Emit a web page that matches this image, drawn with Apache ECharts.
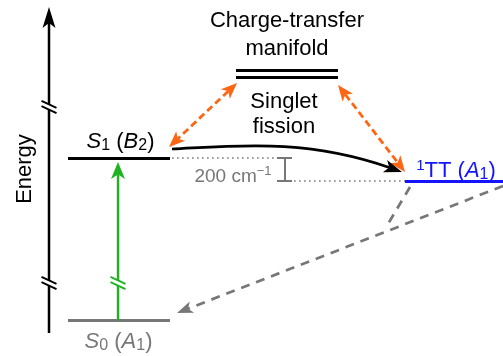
<!DOCTYPE html>
<html>
<head>
<meta charset="utf-8">
<script src="https://cdn.jsdelivr.net/npm/echarts@6/dist/echarts.min.js"></script>
<style>
  html, body { margin: 0; padding: 0; background: #fff; }
  #chart { width: 503px; height: 356px; }
</style>
</head>
<body>
<div id="chart"></div>
<script>
// Diagram coordinates: x runs across the panel, y is relative energy (arbitrary units).

// ---- Energy levels ----
const levelNames  = ['S0', 'S1', '1TT', 'CT upper', 'CT lower'];
const levelEnergy = [35.5, 198, 175, 286, 279];

// ---- Energy axis (drawn range) and break positions ----
const axisEnergyRange = [23, 349];
const axisBreakEnergy = [249, 73];

// ---- Arrows: start point, end point (tip), optional cubic control points ----
const arrowNames = ['energy axis', 'excitation', 'CT coupling S1', 'CT coupling TT', 'singlet fission', 'decay', 'decay branch'];
const arrowFrom  = [[49, axisEnergyRange[0]], [118, 35.5], [237, 273], [338, 271], [172, 207], [503, 170], [410, 169]];
const arrowTo    = [[49, axisEnergyRange[1]], [118, 194], [169, 209], [405, 184], [402, 184], [177, 43], [388, 132]];
const arrowVia   = [null, null, null, null, [[235, 210], [305, 218]], null, null];

// ---- Text ----
const labelTexts = [
  'Charge-transfer', 'manifold', 'Singlet', 'fission',
  '{i|S}{sub|1} ({i|B}{sub|2})',
  '{i|S}{sub|0} ({i|A}{sub|1})',
  '{sup|1}TT ({i|A}{sub|1})',
  '200 cm{sup|\u22121}',
  'Energy'
];

// ---------------- layout & styling ----------------
const FONT = '"Liberation Sans", Arial, Helvetica, sans-serif';
const BLACK = '#000000', GRAY = '#777777', BLUE = '#1414ff', GREEN = '#1fb41f', ORANGE = '#ff6614';

const levelSpanX = [[68, 170], [68, 170], [405, 503], [236, 338], [236, 338]];
const levelColor = [GRAY, BLACK, BLUE, BLACK, BLACK];
const levelWidth = [3.2, 3.2, 3.2, 3, 3];

const arrowStyle = [
  { color: BLACK,  width: 2.5, dash: null,   heads: 'end',  L: 21, hw: 6.5, notch: 5 },
  { color: GREEN,  width: 2.4, dash: null,   heads: 'end',  L: 17, hw: 7,   notch: 4.5 },
  { color: ORANGE, width: 2.8, dash: [7, 4], heads: 'both', L: 16, hw: 6.5, notch: 4 },
  { color: ORANGE, width: 2.8, dash: [7, 4], heads: 'both', L: 16, hw: 6.5, notch: 4 },
  { color: BLACK,  width: 2.6, dash: null,   heads: 'end',  L: 18, hw: 6.5, notch: 4.5 },
  { color: GRAY,   width: 2.7, dash: [9, 7], heads: 'end',  L: 16, hw: 6,   notch: 4 },
  { color: GRAY,   width: 2.7, dash: [9, 7], heads: 'none' }
];

const breakX     = [49, 49, 118];
const breakE     = [axisBreakEnergy[0], axisBreakEnergy[1], axisBreakEnergy[1]];
const breakColor = [BLACK, BLACK, GREEN];

const labelAnchors = [[287, 335], [287, 307.3], [284, 254], [284, 229], [120.5, 214], [118.5, 14], [456, 185.3], [233, 179], [25, 187]];
const labelColors  = [BLACK, BLACK, BLACK, BLACK, BLACK, GRAY, BLUE, GRAY, BLACK];
const labelSizes   = [22, 22, 22, 22, 22, 22, 22, 19, 22];
const labelRotate  = [0, 0, 0, 0, 0, 0, 0, 0, 90];

function richFor(color, size) {
  const sub = Math.round(size * 0.74);
  return {
    i:   { fontFamily: FONT, fontSize: size, fontStyle: 'italic', color: color, lineHeight: 24 },
    sub: { fontFamily: FONT, fontSize: sub, color: color, verticalAlign: 'bottom', lineHeight: 13 },
    sup: { fontFamily: FONT, fontSize: Math.round(size * 0.7), color: color, verticalAlign: 'top', lineHeight: 4 }
  };
}

// ---- derived series data ----
const S1 = levelEnergy[1], TT = levelEnergy[2];

const levelLines = levelEnergy.map((e, i) => ({
  name: levelNames[i],
  coords: [[levelSpanX[i][0], e], [levelSpanX[i][1], e]],
  lineStyle: { color: levelColor[i], width: levelWidth[i], type: 'solid', opacity: 1 }
}));

const guideLines = [
  { coords: [[172, S1], [274, S1]], lineStyle: { color: '#808080', width: 1.7, type: [1.7, 3.3], opacity: 1 } },
  { coords: [[294, TT], [405, TT]], lineStyle: { color: '#808080', width: 1.7, type: [1.7, 3.3], opacity: 1 } },
  { coords: [[284.5, S1], [284.5, TT]], lineStyle: { color: GRAY, width: 2, type: 'solid', opacity: 1 } },
  { coords: [[277, S1], [292, S1]], lineStyle: { color: GRAY, width: 2, type: 'solid', opacity: 1 } },
  { coords: [[277, TT], [292, TT]], lineStyle: { color: GRAY, width: 2, type: 'solid', opacity: 1 } }
];

function unit(a, b) {
  const dx = b[0] - a[0], dy = b[1] - a[1];
  const len = Math.hypot(dx, dy) || 1;
  return [dx / len, dy / len];
}
function head(tip, d, s) {
  const n = [-d[1], d[0]];
  const bx = tip[0] - d[0] * s.L, by = tip[1] - d[1] * s.L;
  return [
    tip,
    [bx + n[0] * s.hw, by + n[1] * s.hw],
    [tip[0] - d[0] * (s.L - s.notch), tip[1] - d[1] * (s.L - s.notch)],
    [bx - n[0] * s.hw, by - n[1] * s.hw]
  ];
}

function renderArrow(params, api) {
  const i = params.dataIndex;
  const s = arrowStyle[i];
  const p0 = api.coord(arrowFrom[i]);
  const p3 = api.coord(arrowTo[i]);
  const via = arrowVia[i] ? arrowVia[i].map(api.coord) : null;
  const children = [];
  const endDir = unit(via ? via[1] : p0, p3);
  const startDir = unit(via ? via[0] : p3, p0);
  let a = p0, b = p3;
  if (s.heads === 'end' || s.heads === 'both') {
    b = [p3[0] - endDir[0] * (s.L - s.notch), p3[1] - endDir[1] * (s.L - s.notch)];
  }
  if (s.heads === 'both') {
    a = [p0[0] - startDir[0] * (s.L - s.notch), p0[1] - startDir[1] * (s.L - s.notch)];
  }
  const lineStyle = { stroke: s.color, lineWidth: s.width, fill: null, lineDash: s.dash || null };
  if (via) {
    children.push({
      type: 'bezierCurve',
      shape: { x1: a[0], y1: a[1], cpx1: via[0][0], cpy1: via[0][1], cpx2: via[1][0], cpy2: via[1][1], x2: b[0], y2: b[1] },
      style: lineStyle
    });
  } else {
    children.push({ type: 'polyline', shape: { points: [a, b] }, style: lineStyle });
  }
  if (s.heads === 'end' || s.heads === 'both') {
    children.push({ type: 'polygon', shape: { points: head(p3, endDir, s) }, style: { fill: s.color } });
  }
  if (s.heads === 'both') {
    children.push({ type: 'polygon', shape: { points: head(p0, startDir, s) }, style: { fill: s.color } });
  }
  return { type: 'group', children: children };
}

function renderBreak(params, api) {
  const i = params.dataIndex;
  const c = api.coord([breakX[i], breakE[i]]);
  const half = 7.5, slope = 3.5 / 7.5, gap = 2.6;
  const m = (t, off) => [c[0] + t, c[1] + off + t * slope];
  return {
    type: 'group',
    children: [
      { type: 'polygon', shape: { points: [m(-3.5, -gap), m(3.5, -gap), m(3.5, gap), m(-3.5, gap)] }, style: { fill: '#fff' } },
      { type: 'line', shape: { x1: m(-half, -gap)[0], y1: m(-half, -gap)[1], x2: m(half, -gap)[0], y2: m(half, -gap)[1] }, style: { stroke: breakColor[i], lineWidth: 1.9 } },
      { type: 'line', shape: { x1: m(-half, gap)[0], y1: m(-half, gap)[1], x2: m(half, gap)[0], y2: m(half, gap)[1] }, style: { stroke: breakColor[i], lineWidth: 1.9 } }
    ]
  };
}

const labelData = labelTexts.map((t, i) => ({
  value: labelAnchors[i],
  itemStyle: { opacity: 1 },
  label: {
    show: true,
    position: 'inside',
    formatter: t,
    rotate: labelRotate[i],
    color: labelColors[i],
    opacity: 1,
    fontFamily: FONT,
    fontSize: labelSizes[i],
    lineHeight: 24,
    rich: richFor(labelColors[i], labelSizes[i])
  }
}));

const chart = echarts.init(document.getElementById('chart'), null, { renderer: 'canvas' });
chart.setOption({
  animation: false,
  backgroundColor: '#fff',
  grid: { left: 0, right: 0, top: 0, bottom: 0, containLabel: false },
  xAxis: { type: 'value', min: 0, max: 503, show: false },
  yAxis: { type: 'value', min: 0, max: 356, show: false },
  series: [
    { type: 'lines', coordinateSystem: 'cartesian2d', silent: true, z: 2, data: guideLines },
    { type: 'lines', coordinateSystem: 'cartesian2d', silent: true, z: 3, data: levelLines },
    { type: 'custom', coordinateSystem: 'cartesian2d', silent: true, z: 4, clip: false,
      renderItem: renderArrow, data: arrowNames.map((n, i) => ({ name: n, value: arrowTo[i] })) },
    { type: 'custom', coordinateSystem: 'cartesian2d', silent: true, z: 5, clip: false,
      renderItem: renderBreak, data: breakX.map((x, i) => [x, breakE[i]]) },
    { type: 'scatter', silent: true, z: 6, symbolSize: 0, itemStyle: { opacity: 1 }, data: labelData }
  ]
});
</script>
</body>
</html>
